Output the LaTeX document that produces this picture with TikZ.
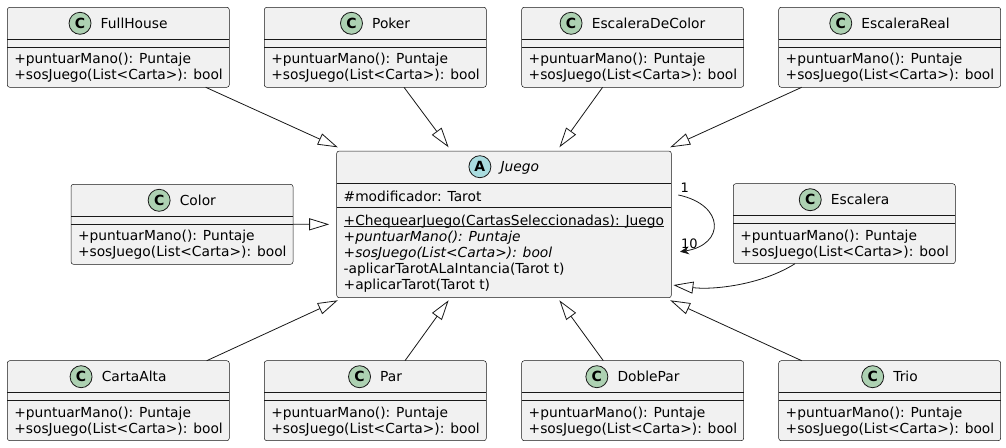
\documentclass[tikz,border=0pt]{standalone}
\usepackage{fontspec}
\setmainfont{DejaVu Sans}
\usetikzlibrary{arrows.meta}

\definecolor{boxfill}{HTML}{F1F1F1}
\definecolor{ink}{HTML}{181818}
\definecolor{classicon}{HTML}{ADD1B2}
\definecolor{abstracticon}{HTML}{A9DCDF}

\tikzset{
  umlbox/.style={draw=ink, fill=boxfill, line width=0.5pt, rounded corners=2.5pt,
    inner sep=0pt, outer sep=0pt, anchor=north west},
  sepline/.style={draw=ink, line width=0.5pt},
  classname/.style={inner sep=0pt, outer sep=0pt, anchor=base,
    font=\fontsize{13.8pt}{16pt}\selectfont},
  member/.style={inner sep=0pt, outer sep=0pt, anchor=base west,
    font=\fontsize{13.8pt}{16pt}\selectfont},
  icon/.style={circle, draw=ink, line width=0.8pt, minimum size=22pt, inner sep=0pt,
    font=\fontsize{14pt}{14pt}\selectfont\bfseries},
  extends/.style={draw=ink, line width=0.8pt, -{Triangle[open, length=20pt, width=12pt]}},
  assoc/.style={draw=ink, line width=0.8pt, -{Stealth[length=9pt, width=8pt, inset=3pt]}},
  mult/.style={inner sep=0pt, outer sep=0pt, anchor=base west,
    font=\fontsize{13pt}{15pt}\selectfont},
}

% A concrete hand class: title row, empty field row, two methods
\newcommand{\handclass}[4]{%
  \node[umlbox, minimum width=222pt, minimum height=80pt] (#1) at (#2,#3) {};
  \draw[sepline] ([yshift=-32pt]#1.north west) -- ([yshift=-32pt]#1.north east);
  \draw[sepline] ([yshift=-40pt]#1.north west) -- ([yshift=-40pt]#1.north east);
  \node[classname] (#1-name) at ([xshift=15.85pt, yshift=-21pt]#1.north) {#4};
  \node[icon, fill=classicon] (#1-icon) at ([xshift=-20.7pt, yshift=5pt]#1-name.base west) {C};
  \node[member] (#1-m1) at ([xshift=7pt, yshift=-56.5pt]#1.north west) {+puntuarMano(): Puntaje};
  \node[member] (#1-m2) at ([xshift=7pt, yshift=-72.5pt]#1.north west) {+sosJuego(List<Carta>): bool};
}

\begin{document}
\begin{tikzpicture}[x=1pt, y=-1pt]
  \fill[white] (0,0) rectangle (1006,447);
  \useasboundingbox (0,0) rectangle (1006,447);

  % top row
  \handclass{fullhouse}{7.3}{7.3}{FullHouse}
  \handclass{poker}{264.3}{7.3}{Poker}
  \handclass{escdecolor}{521.7}{7.3}{EscaleraDeColor}
  \handclass{escreal}{778.7}{7.3}{EscaleraReal}

  % middle row
  \handclass{color}{71}{184.3}{Color}
  \handclass{escalera}{733.3}{183.7}{Escalera}

  % bottom row
  \handclass{cartaalta}{7.3}{360.7}{CartaAlta}
  \handclass{par}{264.3}{360.7}{Par}
  \handclass{doblepar}{521.7}{360.7}{DoblePar}
  \handclass{trio}{778.7}{360.7}{Trio}

  % abstract base class
  \node[umlbox, minimum width=334.6pt, minimum height=146.7pt] (juego) at (336.7,151) {};
  \draw[sepline] ([yshift=-32.3pt]juego.north west) -- ([yshift=-32.3pt]juego.north east);
  \draw[sepline] ([yshift=-56.3pt]juego.north west) -- ([yshift=-56.3pt]juego.north east);
  \node[classname, font=\fontsize{13.8pt}{16pt}\selectfont\itshape] (juego-name)
    at ([xshift=15.85pt, yshift=-20.7pt]juego.north) {Juego};
  \node[icon, fill=abstracticon] (juego-icon) at ([xshift=-20.7pt, yshift=5pt]juego-name.base west) {A};
  \node[member] (juego-f1) at ([xshift=7pt, yshift=-50pt]juego.north west) {\#modificador: Tarot};
  \node[member] (juego-m1) at ([xshift=7pt, yshift=-74pt]juego.north west) {+ChequearJuego(CartasSeleccionadas): Juego};
  \draw[ink, line width=0.8pt] ([yshift=-1.6pt]juego-m1.base west) -- ([yshift=-1.6pt]juego-m1.base east);
  \node[member, font=\fontsize{13.8pt}{16pt}\selectfont\itshape] (juego-m2)
    at ([xshift=7pt, yshift=-90.1pt]juego.north west) {+puntuarMano(): Puntaje};
  \node[member, font=\fontsize{13.8pt}{16pt}\selectfont\itshape] (juego-m3)
    at ([xshift=7pt, yshift=-106.2pt]juego.north west) {+sosJuego(List<Carta>): bool};
  \node[member] (juego-m4) at ([xshift=7pt, yshift=-122.3pt]juego.north west) {-aplicarTarotALaIntancia(Tarot t)};
  \node[member] (juego-m5) at ([xshift=7pt, yshift=-138.4pt]juego.north west) {+aplicarTarot(Tarot t)};

  % generalisations from the top row
  \draw[extends] ([xshift=87.4pt]fullhouse.south) -- ([xshift=1.1pt, yshift=3.7pt]juego.north west);
  \draw[extends] ([xshift=28.7pt]poker.south) -- ([xshift=111.9pt, yshift=3.7pt]juego.north west);
  \draw[extends] ([xshift=-30.1pt]escdecolor.south) -- ([xshift=222.7pt, yshift=3.7pt]juego.north west);
  \draw[extends] ([xshift=-88pt]escreal.south) -- ([xshift=-1.1pt, yshift=3.7pt]juego.north east);

  % generalisations from the bottom row
  \draw[extends] ([xshift=88.4pt]cartaalta.north) -- ([xshift=1.1pt, yshift=-2.6pt]juego.south west);
  \draw[extends] ([xshift=29.7pt]par.north) -- ([xshift=111.9pt, yshift=-2.6pt]juego.south west);
  \draw[extends] ([xshift=-29.4pt]doblepar.north) -- ([xshift=222.7pt, yshift=-2.6pt]juego.south west);
  \draw[extends] ([xshift=-88pt]trio.north) -- ([xshift=-1.1pt, yshift=-2.6pt]juego.south east);

  % generalisations from the sides
  \draw[extends] (color.east) -- ([xshift=-7.5pt]juego.west);
  \draw[extends] ([xshift=-49.3pt]escalera.south)
    .. controls +(-35,22) and +(38,5) .. ([xshift=2pt, yshift=-60.7pt]juego.east);

  % self association
  \draw[assoc] ([xshift=7pt, yshift=29.4pt]juego.east)
    .. controls +(47,10) and +(45,-7) .. ([xshift=8.7pt, yshift=-27.4pt]juego.east);
  \node[mult] (mult-one) at ([xshift=9.4pt, yshift=32pt]juego.east) {1};
  \node[mult] (mult-ten) at ([xshift=9.7pt, yshift=-24pt]juego.east) {10};
\end{tikzpicture}
\end{document}
